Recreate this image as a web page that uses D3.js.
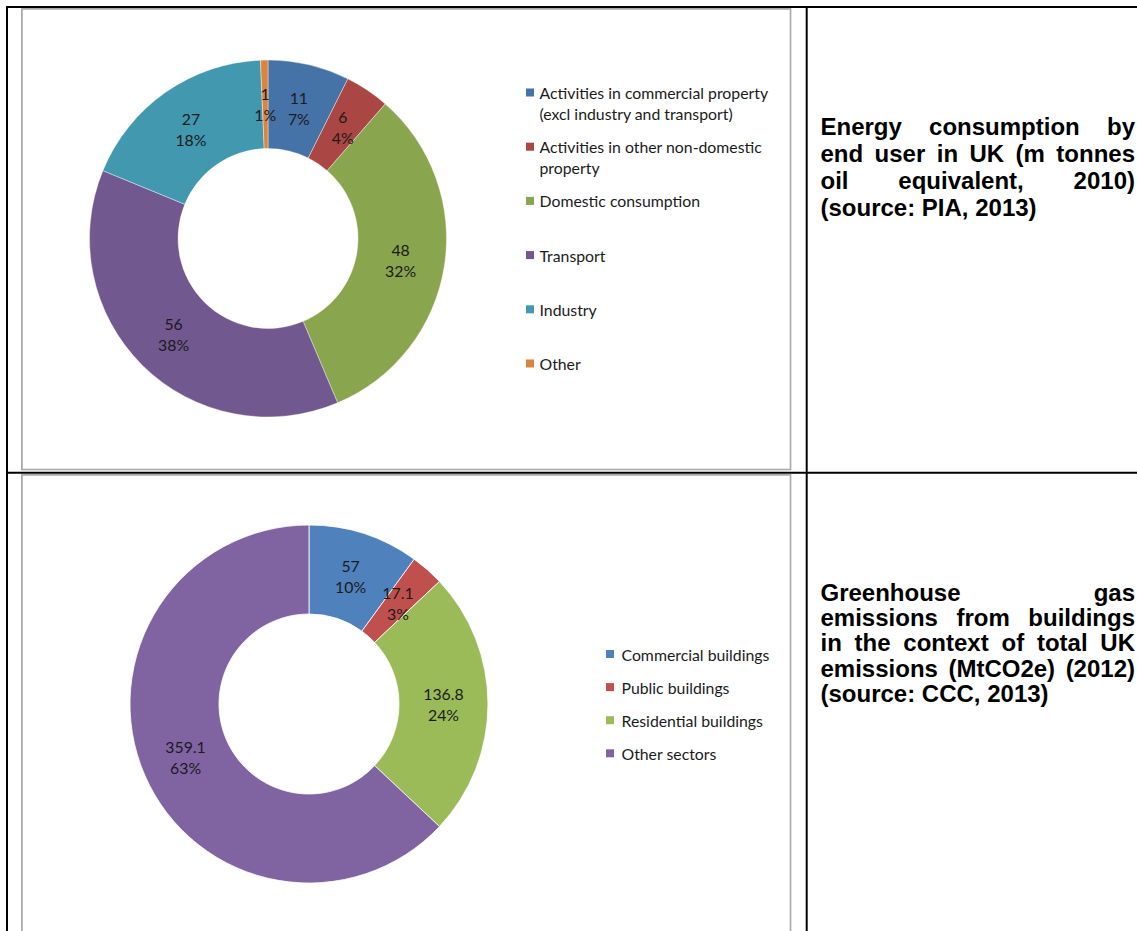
<!DOCTYPE html>
<html>
<head>
<meta charset="utf-8">
<script src="https://cdn.jsdelivr.net/npm/d3@7"></script>
<style>
  html, body { margin: 0; padding: 0; background: #fff; }
  svg { display: block; }
</style>
</head>
<body>
<svg id="page" width="1137" height="931"></svg>
<script>
// ---------------- DATA ----------------
const energyCategories = [
  "Activities in commercial property (excl industry and transport)",
  "Activities in other non-domestic property",
  "Domestic consumption",
  "Transport",
  "Industry",
  "Other"
];
const energyLegendLines = [
  ["Activities in commercial property", "(excl industry and transport)"],
  ["Activities in other non-domestic", "property"],
  ["Domestic consumption"],
  ["Transport"],
  ["Industry"],
  ["Other"]
];
const energyValues = [11, 6, 48, 56, 27, 1];
const energyColors = ["#4572A7", "#AA4643", "#89A54E", "#71588F", "#4198AF", "#DB843D"];

const ghgCategories = ["Commercial buildings", "Public buildings", "Residential buildings", "Other sectors"];
const ghgValues = [57, 17.1, 136.8, 359.1];
const ghgColors = ["#4F81BD", "#C0504D", "#9BBB59", "#8064A2"];

const energyCaption = [
  "Energy consumption by",
  "end user in UK (m tonnes",
  "oil equivalent, 2010)",
  "(source: PIA, 2013)"
];
const ghgCaption = [
  "Greenhouse gas",
  "emissions from buildings",
  "in the context of total UK",
  "emissions (MtCO2e) (2012)",
  "(source: CCC, 2013)"
];

// ---------------- DRAW ----------------
const svg = d3.select("#page");
const FONT = "Lato, 'Open Sans', sans-serif";
const CAPFONT = "'Liberation Sans', Arial, sans-serif";

function measure(text, family, size, weight) {
  const t = svg.append("text").attr("font-family", family).attr("font-size", size)
    .attr("font-weight", weight || "normal").style("white-space", "pre").text(text);
  const w = t.node().getComputedTextLength();
  t.remove();
  return w;
}
// fit the Calibri-like font size to the reference width of a legend entry
const labelSize = 100 * 148 / measure("Commercial buildings", FONT, 100);

// table borders
const table = svg.append("g");
table.append("line").attr("x1", 7).attr("x2", 1137).attr("y1", 7).attr("y2", 7)
  .attr("stroke", "#000").attr("stroke-width", 2);
table.append("line").attr("x1", 7).attr("x2", 7).attr("y1", 6).attr("y2", 931)
  .attr("stroke", "#000").attr("stroke-width", 2);
table.append("line").attr("x1", 806.7).attr("x2", 806.7).attr("y1", 6).attr("y2", 931)
  .attr("stroke", "#000").attr("stroke-width", 2);
table.append("line").attr("x1", 7).attr("x2", 1137).attr("y1", 472.7).attr("y2", 472.7)
  .attr("stroke", "#000").attr("stroke-width", 2);

// chart area frames
function frame(x, y, w, h) {
  svg.append("rect").attr("x", x).attr("y", y).attr("width", w).attr("height", h)
    .attr("fill", "none").attr("stroke", "#c8c8c8").attr("stroke-width", 1);
  svg.append("rect").attr("x", x - 0.8).attr("y", y - 0.8).attr("width", w + 1.6).attr("height", h + 1.6)
    .attr("fill", "none").attr("stroke", "#959595").attr("stroke-width", 1);
}
frame(22.5, 9.5, 767.5, 459.5);
frame(22.5, 475.5, 767.5, 470);

function donut(opts) {
  const g = svg.append("g").attr("transform", `translate(${opts.cx},${opts.cy})`);
  const total = d3.sum(opts.values);
  const pie = d3.pie().sort(null).value(d => d)(opts.values);
  const arc = d3.arc().innerRadius(opts.r0).outerRadius(opts.r1);
  const mid = (opts.r0 + opts.r1) / 2;
  const labelArc = d3.arc().innerRadius(mid).outerRadius(mid);
  g.selectAll("path.slice").data(pie).join("path")
    .attr("class", "slice")
    .attr("d", arc)
    .attr("fill", (d, i) => opts.colors[i])
    .attr("stroke", "#fff").attr("stroke-width", opts.sep);
  const lab = g.selectAll("text.lab").data(pie).join("text")
    .attr("class", "lab")
    .attr("font-family", FONT).attr("font-size", labelSize)
    .attr("fill", "#1b1b1b").attr("text-anchor", "middle");
  lab.each(function (d) {
    const [x, y] = labelArc.centroid(d);
    const t = d3.select(this);
    t.append("tspan").attr("x", x).attr("y", y - 10.5).attr("dominant-baseline", "central")
      .text(String(d.value));
    t.append("tspan").attr("x", x).attr("y", y + 10.5).attr("dominant-baseline", "central")
      .text(Math.round(d.value / total * 100) + "%");
  });
}

donut({ cx: 268, cy: 238.5, r0: 90, r1: 178.5, values: energyValues, colors: energyColors, sep: 0.4 });
donut({ cx: 309, cy: 704, r0: 90, r1: 179, values: ghgValues, colors: ghgColors, sep: 0.8 });

// legends
function legend(opts) {
  const g = svg.append("g");
  opts.lines.forEach((lines, i) => {
    const y = opts.y0 + i * opts.step;
    g.append("rect").attr("x", opts.sx).attr("y", y - 4).attr("width", 8).attr("height", 8)
      .attr("fill", opts.colors[i]);
    const t = g.append("text").attr("font-family", FONT).attr("font-size", labelSize)
      .attr("fill", "#1b1b1b");
    lines.forEach((ln, j) => {
      t.append("tspan").attr("x", opts.tx).attr("y", y + j * 21).attr("dominant-baseline", "central").text(ln);
    });
  });
}
legend({ lines: energyLegendLines, colors: energyColors, sx: 526, tx: 539.5, y0: 92.5, step: 54.2 });
legend({ lines: ghgCategories.map(c => [c]), colors: ghgColors, sx: 606, tx: 621.5, y0: 654, step: 33.1 });

// captions (justified lines, last line left-aligned)
function caption(lines, x0, x1, baseline0, step, size) {
  const space = measure("a a", CAPFONT, size, "bold") - measure("aa", CAPFONT, size, "bold");
  lines.forEach((ln, i) => {
    const words = ln.split(" ");
    const y = baseline0 + i * step;
    const last = i === lines.length - 1;
    const widths = words.map(w => measure(w, CAPFONT, size, "bold"));
    const gap = (last || words.length < 2) ? space
      : (x1 - x0 - d3.sum(widths)) / (words.length - 1);
    let x = x0;
    words.forEach((w, k) => {
      svg.append("text").attr("x", x).attr("y", y)
        .attr("font-family", CAPFONT).attr("font-size", size).attr("font-weight", "bold")
        .attr("fill", "#000").text(w);
      x += widths[k] + gap;
    });
  });
}
caption(energyCaption, 820.5, 1135, 134.8, 27.1, 24);
caption(ghgCaption, 820.5, 1135, 600.7, 25.3, 24);
</script>
</body>
</html>
